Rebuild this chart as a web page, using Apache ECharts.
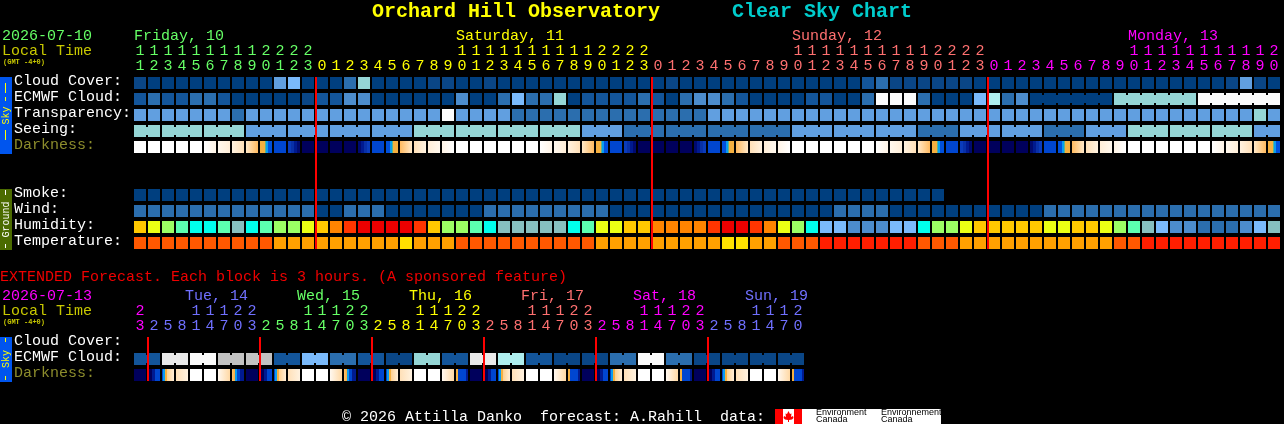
<!DOCTYPE html>
<html><head><meta charset="utf-8"><title>Clear Sky Chart</title>
<style>html,body{margin:0;padding:0;background:#000;overflow:hidden}#c{width:1284px;height:424px}</style>
<script src="https://cdn.jsdelivr.net/npm/echarts@6/dist/echarts.min.js"></script></head>
<body><div id="c"></div>
<script>
// ---------- tick labels ----------
const mainHours = [11,12,13,14,15,16,17,18,19,20,21,22,23,
  0,1,2,3,4,5,6,7,8,9,10,11,12,13,14,15,16,17,18,19,20,21,22,23,
  0,1,2,3,4,5,6,7,8,9,10,11,12,13,14,15,16,17,18,19,20,21,22,23,
  0,1,2,3,4,5,6,7,8,9,10,11,12,13,14,15,16,17,18,19,20];
const mainDayOfCol = [0,0,0,0,0,0,0,0,0,0,0,0,0,
  1,1,1,1,1,1,1,1,1,1,1,1,1,1,1,1,1,1,1,1,1,1,1,1,
  2,2,2,2,2,2,2,2,2,2,2,2,2,2,2,2,2,2,2,2,2,2,2,2,
  3,3,3,3,3,3,3,3,3,3,3,3,3,3,3,3,3,3,3,3,3];
const extHours = [23,
  2,5,8,11,14,17,20,23, 2,5,8,11,14,17,20,23, 2,5,8,11,14,17,20,23,
  2,5,8,11,14,17,20,23, 2,5,8,11,14,17,20,23, 2,5,8,11,14,17,20];
const extDayOfCol = [0,
  1,1,1,1,1,1,1,1, 2,2,2,2,2,2,2,2, 3,3,3,3,3,3,3,3,
  4,4,4,4,4,4,4,4, 5,5,5,5,5,5,5,5, 6,6,6,6,6,6,6];
const mainRowLabels = ['Cloud Cover:','ECMWF Cloud:','Transparency:','Seeing:','Darkness:','','','Smoke:','Wind:','Humidity:','Temperature:'];
const extRowLabels = ['Cloud Cover:','ECMWF Cloud:','Darkness:'];

// ---------- values (palette indices) ----------
const cloudCover = [1,0,0,0,0,0,0,0,0,0, 5,6,0,0,0,3,7,0,0,0, 0,1,1,0,0,1,0,0,0,0,
  0,0,0,0,0,0,0,0,1,0, 0,0,0,0,0,0,0,0,0,0, 0,0,2,3,1,1,1,1,1,1,
  0,0,0,0,0,0,0,0,0,0, 0,0,0,0,0,0,0,0,1,5, 1,0];
const ecmwfCloud = [2,3,2,2,3,3,2,0,0,0, 0,0,1,2,2,4,4,0,0,0, 0,0,0,4,0,0,3,6,3,3,
  7,0,2,2,2,2,3,2,0,3, 4,4,3,2,0,0,0,0,2,2, 0,0,3,11,11,11,3,0,0,0,
  6,8,3,4,0,0,0,0,0,0, 7,7,7,7,7,7,11,11,11,11, 11,11];
const ecmwfBlockSizes = [1,1,1,1,1,1,1,1,1,1,1,1,1,1,1,1,1,1,1,1,1,1,1,1,1,1,1,1,1,1,1,1,
  1,1,1,1,1,1,1,1,1,1,1,1,1,1,1,1,1,1,1,1,1,1,1,1,1,1,1,1,1,1,1,1, 6,6,6];
const transparency = [5,5,5,5,5,5,5,3,5,5, 5,5,5,5,5,5,5,5,5,5, 5,5,11,5,5,5,5,3,3,3,
  3,3,3,3,3,3,3,3,3,3, 3,5,5,5,5,5,5,5,5,5, 5,5,5,5,5,5,5,5,5,5,
  5,5,5,5,5,5,5,5,5,5, 5,5,5,5,5,5,5,5,5,5, 7,5];
const seeingBlocks = [7,7,7, 5,5,5,5, 7,7,7,7, 5,3,3,3,3, 5,5,5, 3, 5,5, 3, 5, 7,7,7, 5];
const seeingBlockSizes = [2,3,3,3,3,3,3,3,3,3,3,3,3,3,3,3,3,3,3,3,3,3,3,3,3,3,3,2];
const darkness = [0,0,0,0,0,1,2,3,4,5,6,7,8,8,8,8,-7,6,-5,-4,-3,-2,-1,
  0,0,0,0,0,0,1,2,3,4,5,6,7,8,8,8,8,-7,6,-5,-4,-3,-2,-1,
  0,0,0,0,0,0,1,2,3,4,5,6,7,8,8,8,8,-7,6,-5,-4,-3,-2,-1,
  0,0,0,0,0,0,1,2,3,4,5];
const smoke = [0,0,0,0,0,0,0,0,0,0, 0,0,0,0,0,0,0,0,0,0, 0,0,0,0,0,0,0,0,0,0,
  0,0,0,0,0,0,0,0,0,0, 0,0,0,0,0,0,0,0,0,0, 0,0,0,0,0,0,0,0];
const wind = [3,3,3,3,3,3,3,3,3,3, 3,3,3,0,0,3,3,3,0,0, 0,0,0,0,0,3,3,3,3,3,
  3,3,3,3,0,0,0,0,0,0, 0,0,0,0,0,0,0,0,0,0, 3,3,3,3,0,0,0,0,0,0,
  0,0,0,0,0,3,3,3,3,3, 3,3,3,3,3,3,3,3,3,3, 3,3];
const humidity = [0,1,2,3,4,4,3,5,4,3, 2,2,1,0,6,7,8,8,8,8, 7,0,2,2,3,4,5,5,5,5,
  5,4,3,1,1,0,0,6,6,6, 6,7,8,8,7,6,1,2,4,9, 9,10,10,10,9,9,4,2,2,1,
  0,0,0,0,0,1,1,0,0,1, 2,3,5,9,10,10,11,11,11,10, 9,5];
const temperature = [0,0,0,0,0,0,0,0,0,0, 1,1,1,1,1,1,1,1,1,2, 1,1,1,0,0,0,0,0,0,0,
  0,0,0,1,1,1,1,1,1,1, 1,1,2,2,1,1,0,0,0,3, 3,3,3,3,3,3,0,0,0,1,
  1,1,1,1,1,1,1,1,1,1, 0,0,3,3,3,3,3,3,3,3, 3,3];
const midnightCols = [13,37,61];

const extEcmwfBlocks = [2,10,11,9,9,2,6,3,2,1,7,2,10,8,2,1,1,3,11,3,1,1,1,1];
const extEcmwfBlockSizes = [2,2,2,2,2,2,2,2,2,2,2,2,2,2,2,2,2,2,2,2,2,2,2,2];
const extDarkness = [8,10,11,-3,0,0,13,9, 8,10,11,-3,0,0,13,9, 8,10,11,-3,0,0,13,12,
  8,10,11,-3,0,0,13,12, 8,10,11,-3,0,0,13,12, 8,10,11,-3,0,0,13,12];
const extMidnightCols = [1,9,17,25,33,41];

// ---------- palettes ----------
const skyColors = ['#003F7F','#0A4686','#13559A','#2B6EAE','#4C8CCC','#619FE0','#7ABAFB','#95D6D6','#AEEEEE','#C2C2C2','#E9E9E9','#FBFBFB'];
const humidityColors = ['#FFC800','#EBFF14','#9BFF64','#5CFFB0','#00FFEC','#86BFBF','#FF8400','#FF3500','#EC0000','#7ABAFB','#4C8CCC','#2B6EAE'];
const temperatureColors = ['#FF5800','#FFA000','#FFE000','#FF1E00'];
const dayColors = ['#66FF66','#FFFF00','#FF7070','#FF00FF'];
const extDayColors = ['#FF00FF','#7070FF','#66FF66','#FFFF00','#FF7070','#FF00FF','#7070FF'];
// darkness stage -> colour stops [position, colour]; a stage below zero is read right to left
const darkStops = {
  0:[[0,'#FFFFFF'],[1,'#FFFFFF']],
  1:[[0,'#FFFFFF'],[1,'#FFF4E6']],
  2:[[0,'#FFF8EE'],[1,'#FFEED8']],
  3:[[0,'#FFF2E0'],[1,'#FFE0B8']],
  4:[[0,'#FFE8C8'],[1,'#FFBA60']],
  5:[[0,'#F5B040'],[.38,'#F5B040'],[.38,'#5CB88C'],[.5,'#5CB88C'],[.5,'#0A9CF0'],[.66,'#0A9CF0'],[.66,'#0050DC'],[1,'#0050DC']],
  6:[[0,'#0046D0'],[1,'#0046D0']],
  7:[[0,'#0A3CBC'],[.25,'#0A3CBC'],[.25,'#0830A8'],[.5,'#0830A8'],[.5,'#001A90'],[.75,'#001A90'],[.75,'#000A70'],[1,'#000A70']],
  8:[[0,'#00005C'],[1,'#00005C']],
  9:[[0,'#FFC070'],[.25,'#F5B040'],[.25,'#0A9CF0'],[.45,'#0A9CF0'],[.45,'#0046D0'],[.7,'#0046D0'],[.7,'#001A90'],[1,'#001A90']],
  10:[[0,'#00005C'],[.3,'#00005C'],[.3,'#001A90'],[.6,'#001A90'],[.6,'#0046D0'],[1,'#0046D0']],
  11:[[0,'#0046D0'],[.12,'#0046D0'],[.12,'#0A9CF0'],[.27,'#0A9CF0'],[.27,'#F5B040'],[.42,'#F5B040'],[.42,'#FFD090'],[1,'#FFEED8']],
  12:[[0,'#F5B040'],[.2,'#F5B040'],[.2,'#0046D0'],[.85,'#0046D0'],[.85,'#001A90'],[1,'#001A90']],
  13:[[0,'#FFF8F0'],[1,'#FFD8A4']]
};

// ---------- helpers ----------
const FONT = '"Liberation Mono", monospace';
function expand(vals, sizes){ const o=[]; vals.forEach((v,i)=>{for(let k=0;k<sizes[i];k++)o.push(v);}); return o; }
function joinsOf(sizes){ const o=[]; sizes.forEach(n=>{for(let k=0;k<n;k++)o.push(k<n-1?1:0);}); return o; }

function cellSeries(name, xi, row, vals, colorFn, joins){
  return {
    type:'custom', name, xAxisIndex:xi, yAxisIndex:xi, silent:true, clip:false,
    data: vals.map((v,i)=>[i,row,v,joins?joins[i]:0]),
    encode:{x:0,y:1},
    renderItem(params, api){
      const c = api.coord([api.value(0),api.value(1)]);
      const fill = colorFn(api.value(2));
      const ch = [{type:'rect',shape:{x:c[0]-6,y:c[1]-6,width:12,height:12},style:{fill}}];
      if(api.value(3)) ch.push({type:'rect',shape:{x:c[0]+6,y:c[1]-4,width:2,height:8},style:{fill}});
      return {type:'group',children:ch};
    }
  };
}
function darkFill(stage){
  let st = darkStops[Math.abs(stage)];
  if(stage<0) st = st.slice().reverse().map(s=>[1-s[0],s[1]]);
  return new echarts.graphic.LinearGradient(0,0,1,0,st.map(s=>({offset:s[0],color:s[1]})));
}
function redLines(name, xi, cols, topRow, botRow){
  return {
    type:'custom', name, xAxisIndex:xi, yAxisIndex:xi, silent:true, clip:false, z:5,
    data: cols.map(c=>[c,topRow,botRow]),
    encode:{x:0,y:1},
    renderItem(params, api){
      const a = api.coord([api.value(0),api.value(1)]);
      const b = api.coord([api.value(0),api.value(2)]);
      return {type:'rect',shape:{x:a[0]-7,y:a[1]-6,width:2,height:b[1]-a[1]+12},style:{fill:'#FF0000'}};
    }
  };
}
const sky = v=>skyColors[v], hum = v=>humidityColors[v], tmp = v=>temperatureColors[v];

function txt(x,y,text,fill,font){
  return {type:'text',x,y,silent:true,z:10,
    style:{text,fill,font:font||('15px '+FONT),verticalAlign:'middle'}};
}
function vtxt(x,y,text,fill){
  return {type:'text',x,y,rotation:Math.PI/2,silent:true,z:10,
    style:{text,fill,font:'10px '+FONT,align:'center',verticalAlign:'middle'}};
}
function rect(x,y,w,h,fill){ return {type:'rect',shape:{x,y,width:w,height:h},style:{fill},silent:true,z:9}; }
function dash(y,h,fill){ return {type:'rect',shape:{x:5,y,width:1,height:h},style:{fill},silent:true,z:10}; }

function xAxis(gi, hours, colorFn){
  return {type:'category',gridIndex:gi,position:'top',data:hours.map(String),
    axisLine:{show:false},axisTick:{show:false},splitLine:{show:false},
    axisLabel:{interval:0,margin:1,fontFamily:'Liberation Mono',fontSize:15,lineHeight:15,
      color:(v,i)=>colorFn(i),
      formatter:v=>(v.length>1?v[0]:' ')+'\n'+v[v.length-1]}};
}
function yAxis(gi, labels){
  return {type:'category',gridIndex:gi,inverse:true,data:labels,
    axisLine:{show:false},axisTick:{show:false},splitLine:{show:false},
    axisLabel:{interval:0,align:'left',margin:119,fontFamily:'Liberation Mono',fontSize:15,
      verticalAlign:'bottom',lineHeight:3,
      color:v=>v==='Darkness:'?'#8C8C2C':'#FFFFFF'}};
}

const option = {
  animation:false, backgroundColor:'#000000',
  grid:[{left:133,top:75,width:1148,height:176},{left:133,top:335,width:672,height:48}],
  xAxis:[xAxis(0,mainHours,i=>dayColors[mainDayOfCol[i]]),xAxis(1,extHours,i=>extDayColors[extDayOfCol[i]])],
  yAxis:[yAxis(0,mainRowLabels),yAxis(1,extRowLabels)],
  series:[
    cellSeries('Cloud Cover',0,0,cloudCover,sky),
    cellSeries('ECMWF Cloud',0,1,ecmwfCloud,sky,joinsOf(ecmwfBlockSizes)),
    cellSeries('Transparency',0,2,transparency,sky),
    cellSeries('Seeing',0,3,expand(seeingBlocks,seeingBlockSizes),sky,joinsOf(seeingBlockSizes)),
    cellSeries('Darkness',0,4,darkness,darkFill),
    cellSeries('Smoke',0,7,smoke,sky),
    cellSeries('Wind',0,8,wind,sky),
    cellSeries('Humidity',0,9,humidity,hum),
    cellSeries('Temperature',0,10,temperature,tmp),
    redLines('Midnight',0,midnightCols,0,10),
    cellSeries('ECMWF Cloud ext',1,1,expand(extEcmwfBlocks,extEcmwfBlockSizes),sky,joinsOf(extEcmwfBlockSizes)),
    cellSeries('Darkness ext',1,2,extDarkness,darkFill),
    redLines('Midnight ext',1,extMidnightCols,0,2)
  ],
  graphic:{elements:[
    txt(372,12,'Orchard Hill Observatory','#FFFF00','bold 20px '+FONT),
    txt(732,12,'Clear Sky Chart','#00CCCC','bold 20px '+FONT),
    txt(2,36,'2026-07-10','#66FF66'),
    txt(2,51,'Local Time','#C8C800'),
    txt(3,62,'(GMT -4+0)','#C8C800','bold 7px '+FONT),
    txt(134,36,'Friday, 10','#66FF66'),
    txt(456,36,'Saturday, 11','#FFFF00'),
    txt(792,36,'Sunday, 12','#FF7070'),
    txt(1128,36,'Monday, 13','#FF00FF'),
    txt(0,277,'EXTENDED Forecast. Each block is 3 hours. (A sponsored feature)','#F00000'),
    txt(2,296,'2026-07-13','#FF00FF'),
    txt(2,311,'Local Time','#C8C800'),
    txt(3,322,'(GMT -4+0)','#C8C800','bold 7px '+FONT),
    txt(185,296,'Tue, 14','#7070FF'),
    txt(297,296,'Wed, 15','#66FF66'),
    txt(409,296,'Thu, 16','#FFFF00'),
    txt(521,296,'Fri, 17','#FF7070'),
    txt(633,296,'Sat, 18','#FF00FF'),
    txt(745,296,'Sun, 19','#7070FF'),
    rect(0,77,12,77,'#0055EE'),
    dash(83,10,'#FFFF00'), dash(97,4,'#FFFF00'), dash(130,10,'#FFFF00'),
    vtxt(6,115.5,'Sky','#FFFF00'),
    rect(0,189,12,61,'#4B6B00'),
    dash(190,5,'#FFFFFF'), dash(244,4,'#FFFFFF'),
    vtxt(6,219.5,'Ground','#FFFFFF'),
    rect(0,337,12,45,'#0055EE'),
    dash(338,4,'#FFFF00'), dash(376,4,'#FFFF00'),
    vtxt(6,359,'Sky','#FFFF00'),
    txt(342,417,'\u00A9 2026 Attilla Danko  forecast: A.Rahill  data:','#FFFFFF'),
    rect(775,409,166,15,'#FFFFFF'),
    rect(775,409,8,15,'#FF0000'),
    rect(794,409,8,15,'#FF0000'),
    {type:'polygon',silent:true,z:10,shape:{points:[[788.5,411],[790,414],[791.5,413.5],[791,417],[793,416],[793.5,418],[792,419.5],[789,420],[789,422],[788,422],[788,420],[785,419.5],[783.5,418],[784,416],[786,417],[785.5,413.5],[787,414]]},style:{fill:'#FF0000'}},
    txt(816,413,'Environment','#000000','9px "Liberation Sans"'),
    txt(816,420,'Canada','#000000','9px "Liberation Sans"'),
    txt(881,413,'Environnement','#000000','9px "Liberation Sans"'),
    txt(881,420,'Canada','#000000','9px "Liberation Sans"')
  ]}
};
const chart = echarts.init(document.getElementById('c'),null,{renderer:'canvas',width:1284,height:424});
chart.setOption(option);
</script></body></html>
